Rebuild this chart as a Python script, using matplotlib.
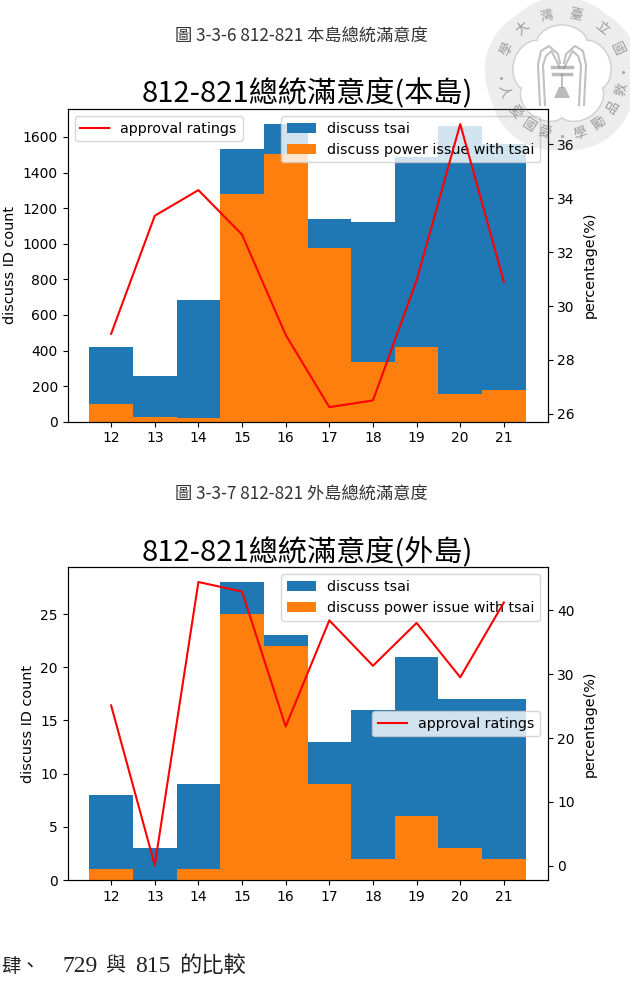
import numpy as np
import matplotlib
matplotlib.use("Agg")
import matplotlib.pyplot as plt
from matplotlib.patches import PathPatch
from matplotlib.path import Path

plt.rcParams['font.family'] = ['Noto Sans CJK TC', 'DejaVu Sans']

W, H = 630, 986

days = [12, 13, 14, 15, 16, 17, 18, 19, 20, 21]

# main island
main_tsai = [420, 258, 683, 1530, 1675, 1137, 1122, 1490, 1660, 1560]
main_power = [97, 27, 18, 1280, 1505, 975, 335, 418, 153, 178]
main_rating = [28.97, 33.35, 34.3, 32.65, 28.93, 26.25, 26.5, 30.95, 36.75, 30.9]

# outlying islands
outer_tsai = [8, 3, 9, 28, 23, 13, 16, 21, 17, 17]
outer_power = [1, 0, 1, 25, 22, 9, 2, 6, 3, 2]
outer_rating = [25.1, 0.1, 44.4, 42.9, 21.8, 38.4, 31.3, 38.0, 29.5, 41.2]

seal_chars = ["學", "大", "灣", "臺", "立", "國", "敦", "品", "勵", "學", "愛", "國", "愛", "人"]
seal_angles = [155, 130, 104, 77, 50, 25, -14, -32, -53, -73, -107, -123, -142, -165]


def px_axes(fig, left, top, right, bottom):
    return fig.add_axes([left / W, 1 - bottom / H, (right - left) / W, (bottom - top) / H])


def draw_chart(fig, box, title, tsai, power, rating, ylim2, line_loc):
    ax = px_axes(fig, *box)
    ax.bar(days, tsai, width=1, color="tab:blue", label="discuss tsai")
    ax.bar(days, power, width=1, color="tab:orange", label="discuss power issue with tsai")
    ax.set_xticks(days)
    ax.set_xlim(11, 22)
    ax.set_ylabel("discuss ID count", family="DejaVu Sans", labelpad=4, fontsize=10.4)
    ax.set_title(title, fontsize=21, pad=4)
    ax.legend(loc="upper right", prop={"family": "DejaVu Sans", "size": 10.3})

    ax2 = ax.twinx()
    ax2.plot(days, rating, color="red", label="approval ratings")
    ax2.set_ylim(*ylim2)
    ax2.set_ylabel("percentage(%)", family="DejaVu Sans", labelpad=6, fontsize=10.4)
    ax2.legend(loc=line_loc, prop={"family": "DejaVu Sans", "size": 10.3})
    for a in (ax, ax2):
        a.tick_params(labelsize=10)
        for lbl in a.get_xticklabels() + a.get_yticklabels():
            lbl.set_family("DejaVu Sans")
    return ax, ax2


def closed_path(x, y):
    verts = np.column_stack([x, y])
    codes = [Path.MOVETO] + [Path.LINETO] * (len(x) - 2) + [Path.CLOSEPOLY]
    return verts, codes


def draw_seal(fig):
    # university seal watermark, drawn in pixel space over everything
    ov = fig.add_axes([0, 0, 1, 1], zorder=10)
    ov.set_xlim(0, W)
    ov.set_ylim(H, 0)
    ov.axis("off")
    ov.patch.set_alpha(0)
    cx, cy = 562, 75
    grey = "#777777"

    t = np.linspace(0, 2 * np.pi, 500)
    lobes = np.abs(np.cos(2.5 * (t + np.pi / 2)))
    r_out = 75 + 3 * lobes
    r_in = 42 + 8 * lobes ** 0.6
    v1, c1 = closed_path(cx + r_out * np.cos(t), cy + r_out * np.sin(t))
    v2, c2 = closed_path(cx + r_in[::-1] * np.cos(t[::-1]), cy + r_in[::-1] * np.sin(t[::-1]))
    band = Path(np.vstack([v1, v2]), c1 + c2)
    ov.add_patch(PathPatch(band, fc=grey, ec="none", alpha=0.13))
    ov.plot(cx + r_in * np.cos(t), cy + r_in * np.sin(t), color=grey, lw=1, alpha=0.3)

    # fountain arches, crossbar and bell
    for side in (-1, 1):
        for dx, top in ((0, -29), (5, -24)):
            xs = [side * (22 - dx), side * (24 - dx), side * (21 - dx), side * (13 - dx / 2), side * (4 + dx / 2), side * 2]
            ys = [30, -10, top + 5, top, top + 8, -12 + dx]
            ov.plot(cx + np.array(xs), cy + np.array(ys), color=grey, lw=1.5, alpha=0.45)
    ov.plot([cx - 10, cx + 10], [cy - 8, cy - 8], color=grey, lw=2.5, alpha=0.5)
    ov.plot([cx - 9, cx + 9], [cy - 1, cy - 1], color=grey, lw=2.5, alpha=0.5)
    ov.plot([cx, cx], [cy, cy + 12], color=grey, lw=1.5, alpha=0.45)
    ov.fill([cx - 3, cx + 3, cx + 8, cx - 8], [cy + 12, cy + 12, cy + 23, cy + 23], color=grey, alpha=0.5, lw=0)

    for ch, a in zip(seal_chars, seal_angles):
        th = np.deg2rad(a)
        ov.text(cx + 61 * np.cos(th), cy - 61 * np.sin(th), ch, fontsize=9.5, color=grey, alpha=0.7,
                rotation=a - 90 if a > 0 else a + 90, ha="center", va="center", rotation_mode="anchor")
    for a in (3, -90, -177):
        th = np.deg2rad(a)
        ov.plot(cx + 61 * np.cos(th), cy - 61 * np.sin(th), "o", ms=2.2, color=grey, alpha=0.6, mew=0)


fig = plt.figure(figsize=(W / 100, H / 100), dpi=100)

fig.text(301 / W, 1 - 37 / H, "圖 3-3-6 812-821 本島總統滿意度", fontsize=12.4, color="#333333", ha="center", va="center")
fig.text(301 / W, 1 - 495 / H, "圖 3-3-7 812-821 外島總統滿意度", fontsize=12.4, color="#333333", ha="center", va="center")

draw_chart(fig, (67.5, 108.7, 547.5, 421.7), "812-821總統滿意度(本島)", main_tsai, main_power, main_rating,
           (25.71, 37.32), "upper left")
draw_chart(fig, (67.5, 567.3, 547.5, 880), "812-821總統滿意度(外島)", outer_tsai, outer_power, outer_rating,
           (-2.2, 46.7), "center right")

# section heading, spaced by hand because the digits and the hanzi use different fonts
heading = [(1, "肆、", 14), (63, "729", 17), (105, "與", 14.5), (135, "815", 17), (179, "的比較", 16)]
for x, s, size in heading:
    fig.text(x / W, 1 - 967 / H, s, fontsize=size, color="#222222", ha="left", va="center",
             family=["Liberation Serif", "Noto Sans CJK TC"])

draw_seal(fig)

fig.savefig("out.png", dpi=100)
